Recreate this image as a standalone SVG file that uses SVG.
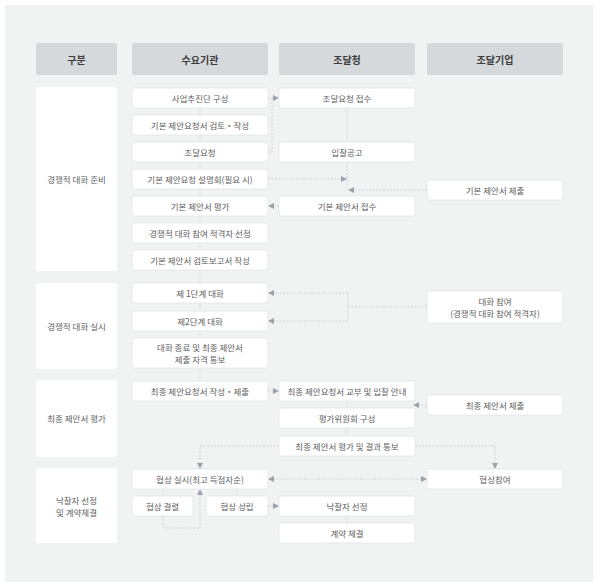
<svg xmlns="http://www.w3.org/2000/svg" width="600" height="588" viewBox="0 0 600 588">
<style>
text{font-family:"Noto Sans CJK KR","Noto Sans",sans-serif;text-anchor:middle;dominant-baseline:central}
.hd rect{fill:#d5d9dc}
.hd text{font-size:10px;font-weight:bold;fill:#3c3c3c}
.sec rect{fill:#ffffff}
.sec text{font-size:8.5px;fill:#5e5e5e}
.n rect{fill:#ffffff;stroke:#e3e5e6;stroke-width:0.8}
.n text{font-size:8.5px;fill:#5e5e5e}
.c path{fill:none;stroke:#c8ccce;stroke-width:0.8;stroke-dasharray:2 1.5}
.c .s{stroke-dasharray:none;stroke:#dcdfe1}
</style>
<defs>
<marker id="a" viewBox="0 0 6 6" refX="5" refY="3" markerWidth="6" markerHeight="6" orient="auto-start-reverse" markerUnits="userSpaceOnUse">
<path d="M0,0 L6,3 L0,6 Z" fill="#9aa3aa"/>
</marker>
</defs>
<rect x="0" y="0" width="600" height="588" fill="#ffffff"/>
<rect x="5" y="5" width="588" height="577" fill="#f1f2f2"/>

<g id="headers" class="hd">
<g id="h0"><rect x="36" y="43" width="81" height="32" rx="2"/><text x="76.5" y="59">구분</text></g>
<g id="h1"><rect x="132" y="43" width="136" height="32" rx="2"/><text x="200" y="59">수요기관</text></g>
<g id="h2"><rect x="279" y="43" width="136" height="32" rx="2"/><text x="347" y="59">조달청</text></g>
<g id="h3"><rect x="427" y="43" width="136" height="32" rx="2"/><text x="495" y="59">조달기업</text></g>
</g>

<g id="sections" class="sec">
<g id="s1"><rect x="36" y="87" width="81" height="184" rx="2"/><text x="76.5" y="179">경쟁적 대화 준비</text></g>
<g id="s2"><rect x="36" y="283" width="81" height="86" rx="2"/><text x="76.5" y="326">경쟁적 대화 실시</text></g>
<g id="s3"><rect x="36" y="380" width="81" height="77" rx="2"/><text x="76.5" y="418">최종 제안서 평가</text></g>
<g id="s4"><rect x="36" y="468" width="81" height="75" rx="2"/><text x="76.5" y="500">낙찰자 선정</text><text x="76.5" y="512">및 계약체결</text></g>
</g>

<g id="connectors" class="c">
<path class="s" d="M200,108 V381"/>
<path class="s" d="M347,108 V142"/>
<path d="M347,162 V190"/>
<path d="M268,152 H272 V98"/>
<path d="M268,98 H278" marker-end="url(#a)"/>
<path d="M268,179 H346" marker-end="url(#a)"/>
<path d="M427,190 H349" marker-end="url(#a)"/>
<path d="M279,206 H269" marker-end="url(#a)"/>
<path d="M427,307 H348"/>
<path d="M348,293 V321"/>
<path d="M348,293 H269" marker-end="url(#a)"/>
<path d="M348,321 H269" marker-end="url(#a)"/>
<path d="M268,391 H278" marker-end="url(#a)"/>
<path class="s" d="M347,401 V436"/>
<path d="M427,405 H414" marker-end="url(#a)"/>
<path d="M279,446 H200 V468" marker-end="url(#a)"/>
<path d="M415,446 H495 V468" marker-end="url(#a)"/>
<path d="M269,479 H426" marker-start="url(#a)" marker-end="url(#a)"/>
<path class="s" d="M163,489 V496"/>
<path class="s" d="M237,489 V496"/>
<path d="M163,516 V528 H200 V490" marker-end="url(#a)"/>
<path d="M268,506 H278" marker-end="url(#a)"/>
<path class="s" d="M347,516 V523"/>
</g>

<g id="nodes" class="n">
<g id="n1"><rect x="132" y="88" width="136" height="20" rx="2"/><text x="200" y="98">사업추진단 구성</text></g>
<g id="n2"><rect x="132" y="115" width="136" height="20" rx="2"/><text x="200" y="125">기본 제안요청서 검토・작성</text></g>
<g id="n3"><rect x="132" y="142" width="136" height="20" rx="2"/><text x="200" y="152">조달요청</text></g>
<g id="n4"><rect x="132" y="169" width="136" height="20" rx="2"/><text x="200" y="179">기본 제안요청 설명회(필요 시)</text></g>
<g id="n5"><rect x="132" y="196" width="136" height="20" rx="2"/><text x="200" y="206">기본 제안서 평가</text></g>
<g id="n6"><rect x="132" y="223" width="136" height="20" rx="2"/><text x="200" y="233">경쟁적 대화 참여 적격자 선정</text></g>
<g id="n7"><rect x="132" y="250" width="136" height="20" rx="2"/><text x="200" y="260">기본 제안서 검토보고서 작성</text></g>
<g id="n8"><rect x="279" y="88" width="136" height="20" rx="2"/><text x="347" y="98">조달요청 접수</text></g>
<g id="n9"><rect x="279" y="142" width="136" height="20" rx="2"/><text x="347" y="152">입찰공고</text></g>
<g id="n10"><rect x="279" y="196" width="136" height="20" rx="2"/><text x="347" y="206">기본 제안서 접수</text></g>
<g id="n11"><rect x="427" y="180" width="136" height="20" rx="2"/><text x="495" y="190">기본 제안서 제출</text></g>

<g id="n12"><rect x="132" y="283" width="136" height="20" rx="2"/><text x="200" y="293">제 1단계 대화</text></g>
<g id="n13"><rect x="132" y="311" width="136" height="20" rx="2"/><text x="200" y="321">제2단계 대화</text></g>
<g id="n14"><rect x="132" y="338" width="136" height="30" rx="2"/><text x="200" y="347">대화 종료 및 최종 제안서</text><text x="200" y="359">제출 자격 통보</text></g>
<g id="n15"><rect x="427" y="291" width="136" height="32" rx="2"/><text x="495" y="301">대화 참여</text><text x="495" y="313">(경쟁적 대화 참여 적격자)</text></g>

<g id="n16"><rect x="132" y="381" width="136" height="20" rx="2"/><text x="200" y="391">최종 제안요청서 작성・제출</text></g>
<g id="n17"><rect x="279" y="381" width="136" height="20" rx="2"/><text x="347" y="391">최종 제안요청서 교부 및 입찰 안내</text></g>
<g id="n18"><rect x="279" y="408" width="136" height="20" rx="2"/><text x="347" y="418">평가위원회 구성</text></g>
<g id="n19"><rect x="279" y="436" width="136" height="20" rx="2"/><text x="347" y="446">최종 제안서 평가 및 결과 통보</text></g>
<g id="n20"><rect x="427" y="395" width="136" height="20" rx="2"/><text x="495" y="405">최종 제안서 제출</text></g>

<g id="n21"><rect x="132" y="469" width="136" height="20" rx="2"/><text x="200" y="479">협상 실시(최고 득점자순)</text></g>
<g id="n22"><rect x="132" y="496" width="61" height="20" rx="2"/><text x="162.5" y="506">협상 결렬</text></g>
<g id="n23"><rect x="206" y="496" width="62" height="20" rx="2"/><text x="237" y="506">협상 성립</text></g>
<g id="n24"><rect x="279" y="496" width="136" height="20" rx="2"/><text x="347" y="506">낙찰자 선정</text></g>
<g id="n25"><rect x="279" y="523" width="136" height="20" rx="2"/><text x="347" y="533">계약 체결</text></g>
<g id="n26"><rect x="427" y="469" width="136" height="20" rx="2"/><text x="495" y="479">협상참여</text></g>
</g>
</svg>
